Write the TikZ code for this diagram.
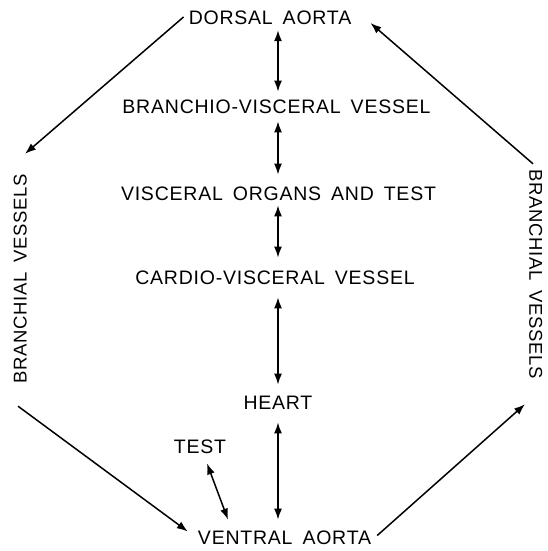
\documentclass[tikz,border=0pt]{standalone}
\usepackage{fontspec}
\setmainfont{Liberation Sans}[LetterSpace=4, WordSpace=1.6]
\usetikzlibrary{arrows.meta,calc}

\begin{document}
\begin{tikzpicture}[x=1pt, y=1pt,
  lbl/.style={font=\fontsize{19.5}{22}\selectfont, inner sep=0pt,
              text height=14pt, text depth=0pt},
  vlbl/.style={font=\fontsize{18.5}{22}\selectfont, inner sep=0pt,
               text height=13.3pt, text depth=0pt},
  flow/.style={line width=1.5pt, -{Latex[length=11pt,width=8pt]}},
  both/.style={line width=1.5pt, {Latex[length=11pt,width=8pt]}-{Latex[length=11pt,width=8pt]}}
]
\useasboundingbox (0,0) rectangle (547,551);

% circulation stations
\node[lbl] (dorsal)   at (270,533)   {DORSAL AORTA};
\node[lbl] (branchio) at (276.5,444.5) {BRANCHIO-VISCERAL VESSEL};
\node[lbl] (visceral) at (278.5,357.5) {VISCERAL ORGANS AND TEST};
\node[lbl] (cardio)   at (275,273.5) {CARDIO-VISCERAL VESSEL};
\node[lbl] (heart)    at (278,148)   {HEART};
\node[lbl] (test)     at (200,104.5) {TEST};
\node[lbl] (ventral)  at (284.5,13.5) {VENTRAL AORTA};
\node[vlbl, rotate=90]  (bleft)  at (20,272)  {BRANCHIAL VESSELS};
\node[vlbl, rotate=-90] (bright) at (536,277) {BRANCHIAL VESSELS};

% reversible central pathway
\draw[both, shorten <=5pt,  shorten >=7.7pt]  (dorsal.south -| heart)   -- (branchio.north -| heart);
\draw[both, shorten <=7.7pt, shorten >=11.7pt] (branchio.south -| heart) -- (visceral.north -| heart);
\draw[both, shorten <=4.7pt, shorten >=12.7pt] (visceral.south -| heart) -- (cardio.north -| heart);
\draw[both, shorten <=12.7pt, shorten >=11.2pt] (cardio.south -| heart)  -- (heart.north);
\draw[both, shorten <=12.2pt, shorten >=10.7pt] (heart.south) -- (ventral.north -| heart);
\draw[both] ($(test.south)+(7,-9.7)$) -- ($(ventral.north)+(-56.5,10.7)$);

% outer loop through the branchial vessels
\draw[flow] ($(dorsal.west)+(-5,1)$)  -- ($(bleft.east)+(5,20)$);
\draw[flow] ($(bleft.west)+(-2,-22)$) -- ($(ventral.west)+(-10,6)$);
\draw[flow] ($(ventral.east)+(6,2)$)  -- ($(bright.east)+(-11,-25)$);
\draw[flow] ($(bright.west)+(-3,5)$)  -- ($(dorsal.east)+(19,-5)$);
\end{tikzpicture}
\end{document}
